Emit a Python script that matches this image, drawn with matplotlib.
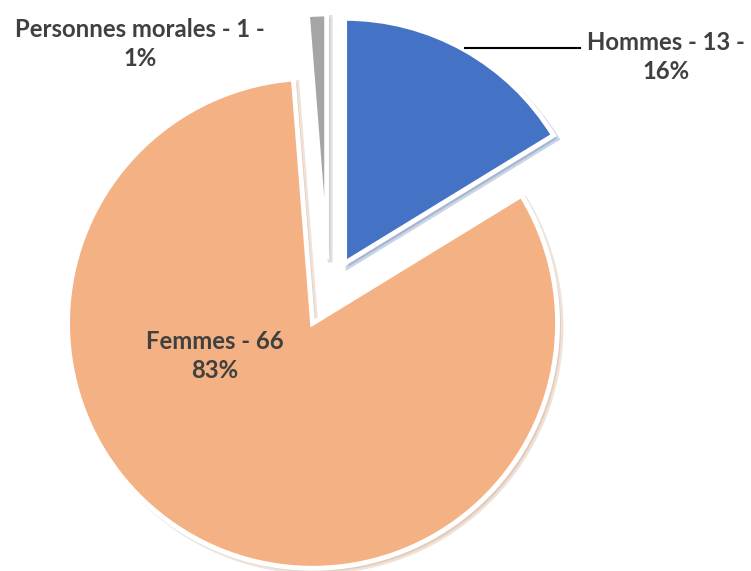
import matplotlib
matplotlib.use("Agg")
import matplotlib.pyplot as plt

categories = ["Hommes", "Femmes", "Personnes morales"]
values = [13, 66, 1]
pct_labels = ["16%", "83%", "1%"]
colors = ["#4472C4", "#F4B183", "#A5A5A5"]

W, H = 751, 571
fig = plt.figure(figsize=(W / 100, H / 100), dpi=100)
ax = fig.add_axes([0, 0, 1, 1])

R = 245
cx, cy = 328, H - 293
wedges, _ = ax.pie(values, colors=colors, startangle=90, counterclock=False,
                   radius=R, center=(cx, cy), explode=[34] * 3,
                   shadow={"ox": 2.5, "oy": -2.5, "shade": 0.2, "alpha": 0.25},
                   wedgeprops=dict(edgecolor="white", linewidth=3.5))
ax.set_xlim(0, W)
ax.set_ylim(0, H)
ax.set_aspect("equal")
ax.axis("off")

tc = "#404040"
font = dict(family="Lato", fontweight="bold", fontsize=17.2, color=tc,
            ha="center", va="center", linespacing=1.35)
ax.text(666, H - 57, f"{categories[0]} - {values[0]} -\n{pct_labels[0]}", **font)
ax.text(215, H - 356, f"{categories[1]} - {values[1]}\n{pct_labels[1]}", **font)
ax.text(140, H - 44, f"{categories[2]} - {values[2]} -\n{pct_labels[2]}", **font)
ax.plot([465, 580], [H - 48, H - 48], color="black", lw=1.5)

fig.savefig("out.png", dpi=100)
